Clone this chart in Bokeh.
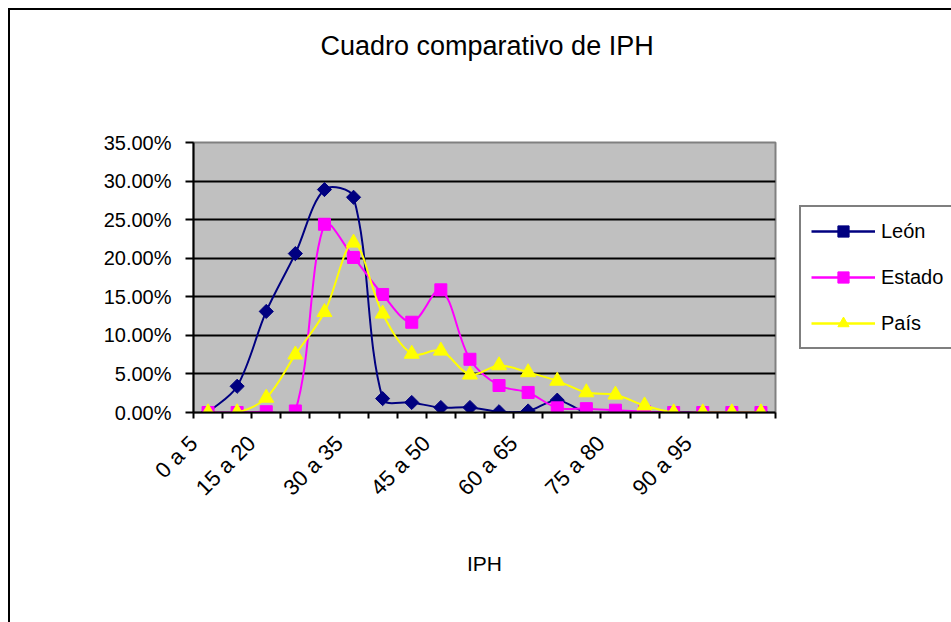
import math
from bokeh.plotting import figure
from bokeh.models import (FixedTicker, NumeralTickFormatter, Legend, LegendItem,
                          ColumnDataSource, Range1d, LinearAxis)
from bokeh.embed import file_html
from bokeh.resources import INLINE

# ---- data ----
categories = ["0 a 5", "5 a 10", "10 a 15", "15 a 20", "20 a 25", "25 a 30",
              "30 a 35", "35 a 40", "40 a 45", "45 a 50", "50 a 55", "55 a 60",
              "60 a 65", "65 a 70", "70 a 75", "75 a 80", "80 a 85", "85 a 90",
              "90 a 95", "95 a 100"]
leon = [0.000, 0.034, 0.131, 0.206, 0.289, 0.279, 0.018, 0.013, 0.0065, 0.0065,
        0.001, 0.002, 0.016, 0.000, 0.000, 0.000, 0.000, 0.000, 0.000, 0.000]
estado = [0.000, 0.000, 0.001, 0.002, 0.244, 0.201, 0.153, 0.117, 0.159, 0.069,
          0.035, 0.026, 0.006, 0.005, 0.003, 0.001, 0.000, 0.000, 0.000, 0.000]
pais = [0.000, 0.000, 0.019, 0.075, 0.130, 0.220, 0.128, 0.076, 0.080, 0.049,
        0.061, 0.052, 0.041, 0.026, 0.023, 0.009, 0.000, 0.000, 0.000, 0.000]
series_names = ["León", "Estado", "País"]
series_colors = ["#000080", "#FF00FF", "#FFFF00"]
y_ticks = [0.0, 0.05, 0.10, 0.15, 0.20, 0.25, 0.30, 0.35]
label_every = 3

FONT = "Liberation Sans"
FRAME_W, FRAME_H = 582, 270
Y_MAX = 0.35

p = figure(frame_width=FRAME_W, frame_height=FRAME_H, output_backend="svg",
           toolbar_location=None,
           x_range=Range1d(0, len(categories)), y_range=Range1d(0, Y_MAX),
           min_border_left=183, min_border_right=176, min_border_top=132,
           min_border_bottom=210)
p.styles = {"margin-left": "8px", "margin-top": "8px",
            "border-left": "2px solid black", "border-top": "2px solid black"}

p.border_fill_color = "white"
p.background_fill_color = "#C0C0C0"
p.outline_line_color = "#808080"
p.outline_line_width = 2

# title
p.title.text = "Cuadro comparativo de IPH"
p.title.text_font = FONT
p.title.text_font_size = "27px"
p.title.text_font_style = "normal"
p.title.text_color = "black"
p.title.align = "left"
p.title.offset = 127
p.title.standoff = 32

# grid
p.xgrid.visible = False
p.ygrid.ticker = FixedTicker(ticks=y_ticks)
p.ygrid.grid_line_color = "black"
p.ygrid.grid_line_width = 2

# x axis: rotated labels hang to the left of their category, as in the reference
xc = [i + 0.5 for i in range(len(categories))]
label_pos = {float(max(i - 1, 0)): categories[i] for i in range(0, len(categories), label_every)}
xa = p.below[0]
xa.ticker = FixedTicker(ticks=list(label_pos.keys()),
                        minor_ticks=list(range(len(categories) + 1)))
xa.major_label_overrides = label_pos
xa.major_label_orientation = math.pi / 4
xa.major_tick_out = 0
xa.major_tick_in = 0
xa.minor_tick_out = 6
xa.minor_tick_in = 0
xa.minor_tick_line_color = "black"
xa.minor_tick_line_width = 2
xa.axis_line_color = "black"
xa.axis_line_width = 2
xa.major_label_text_font = FONT
xa.major_label_text_font_size = "22px"
xa.major_label_text_color = "black"
xa.major_label_standoff = 21
xa.axis_label = "IPH"
xa.axis_label_text_font = FONT
xa.axis_label_text_font_size = "21px"
xa.axis_label_text_font_style = "normal"
xa.axis_label_text_color = "black"
xa.axis_label_standoff = 40

# y axis
ya = p.left[0]
ya.ticker = FixedTicker(ticks=y_ticks)
ya.formatter = NumeralTickFormatter(format="0.00%")
ya.major_tick_out = 8
ya.major_tick_in = 0
ya.major_tick_line_width = 2
ya.major_tick_line_color = "black"
ya.minor_tick_out = 0
ya.minor_tick_in = 0
ya.axis_line_color = "black"
ya.axis_line_width = 2
ya.major_label_text_font = FONT
ya.major_label_text_font_size = "20px"
ya.major_label_text_color = "black"
ya.major_label_standoff = 14

# invisible spacer axis above the frame, so that the title sits high up
spacer = LinearAxis(ticker=FixedTicker(ticks=[len(categories) / 2]),
                    major_label_overrides={len(categories) / 2: ""},
                    major_tick_out=66, major_tick_in=0, major_tick_line_color=None,
                    minor_tick_out=0, minor_tick_in=0, minor_tick_line_color=None,
                    axis_line_color=None, major_label_standoff=0,
                    major_label_text_font_size="1px", axis_label_standoff=0)
p.add_layout(spacer, "above")


def bezier_source(xs, ys):
    """Excel-like smoothing: Bezier control arms proportional to the
    neighbouring segment lengths (measured in screen space)."""
    kx = FRAME_W / len(categories)
    ky = FRAME_H / Y_MAX
    n = len(xs)
    P = [(x * kx, y * ky) for x, y in zip(xs, ys)]

    def dist(a, b):
        return math.hypot(P[a][0] - P[b][0], P[a][1] - P[b][1])

    out_c, in_c = [], []
    for i in range(n):
        im1, ip1 = max(i - 1, 0), min(i + 1, n - 1)
        tx, ty = P[ip1][0] - P[im1][0], P[ip1][1] - P[im1][1]
        d0, d1 = dist(im1, i), dist(i, ip1)
        s = d0 + d1 if d0 + d1 > 0 else 1.0
        out_c.append((P[i][0] + tx * d1 / s / 3, P[i][1] + ty * d1 / s / 3))
        in_c.append((P[i][0] - tx * d0 / s / 3, P[i][1] - ty * d0 / s / 3))
    d = dict(x0=xs[:-1], y0=ys[:-1], x1=xs[1:], y1=ys[1:],
             cx0=[c[0] / kx for c in out_c[:-1]], cy0=[c[1] / ky for c in out_c[:-1]],
             cx1=[c[0] / kx for c in in_c[1:]], cy1=[c[1] / ky for c in in_c[1:]])
    return ColumnDataSource(d)


marker_specs = [dict(marker="square", size=10, angle=math.pi / 4),
                dict(marker="square", size=12, angle=0.0),
                dict(marker="triangle", size=15, angle=0.0)]

items = []
for name, vals, color, spec in zip(series_names, [leon, estado, pais], series_colors, marker_specs):
    p.bezier(x0="x0", y0="y0", x1="x1", y1="y1", cx0="cx0", cy0="cy0",
             cx1="cx1", cy1="cy1", source=bezier_source(xc, vals),
             line_color=color, line_width=2)
    lr = p.line(x=[float("nan")], y=[float("nan")], line_color=color, line_width=2.5)
    sr = p.scatter(x=xc, y=vals, marker=spec["marker"], size=spec["size"],
                   angle=spec["angle"], fill_color=color, line_color=color, line_width=1)
    items.append(LegendItem(label=name, renderers=[lr, sr]))

legend = Legend(items=items, location="left", margin=24,
                label_text_font=FONT, label_text_font_size="20px",
                label_text_color="black",
                glyph_width=64, glyph_height=28, label_height=28,
                label_standoff=6, spacing=18, padding=10,
                border_line_color="black", border_line_width=2,
                background_fill_color="white", background_fill_alpha=1)
p.add_layout(legend, "right")

open("out.html", "w").write(file_html(p, INLINE))
